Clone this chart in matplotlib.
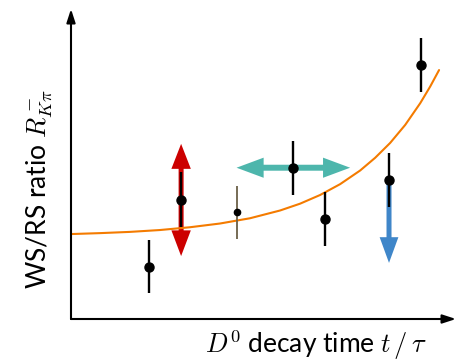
import matplotlib
matplotlib.use("Agg")
import matplotlib.pyplot as plt
from matplotlib.patches import FancyArrowPatch

plt.rcParams['font.family'] = ['Lato', 'DejaVu Sans']
plt.rcParams['mathtext.fontset'] = 'cm'

# measured points (decay time, ratio) in arbitrary units
t_pts = [2.03, 2.86, 4.31, 5.77, 6.60, 8.26, 9.09]
r_pts = [1.69, 3.85, 3.44, 4.88, 3.24, 4.47, 8.19]
r_err = [0.86, 0.88, 0.85, 0.87, 0.87, 0.87, 0.87]
pt_colors = ['black', 'black', '#6b6048', 'black', 'black', 'black', 'black']

# model curve
curve_t = [0.0, 0.75, 1.53, 2.31, 3.09, 3.87, 4.65, 5.43, 5.95, 6.47, 6.99, 7.51,
           7.90, 8.29, 8.68, 9.07, 9.33, 9.56]
curve_r = [2.74, 2.77, 2.81, 2.87, 2.96, 3.08, 3.25, 3.50, 3.72, 4.00, 4.35, 4.79,
           5.20, 5.68, 6.26, 6.96, 7.50, 8.03]

# arrows: (start, end)
red_up = ((2.86, 3.84), (2.86, 5.65))
red_down = ((2.86, 3.84), (2.86, 2.03))
teal_left = ((5.78, 4.88), (4.30, 4.88))
teal_right = ((5.78, 4.88), (7.25, 4.88))
blue_down = ((8.26, 4.47), (8.26, 1.81))

W, H = 456, 363
fig = plt.figure(figsize=(W / 100, H / 100), dpi=100)
ax = fig.add_axes([71 / W, (H - 319) / H, (456 - 71) / W, (319 - 9) / H])
ax.set_xlim(0, 10)
ax.set_ylim(0, 10)
for s in ax.spines.values():
    s.set_visible(False)
ax.set_xticks([])
ax.set_yticks([])
ax.patch.set_alpha(0)

def arr(p0, p1, color, hl, hw, tw):
    a = FancyArrowPatch(p0, p1, arrowstyle=f"simple,head_length={hl},head_width={hw},tail_width={tw}",
                        mutation_scale=1, color=color, lw=0, shrinkA=0, shrinkB=0, zorder=1)
    ax.add_patch(a)

arr(*red_up, '#cc0000', 18, 14, 3.6)
arr(*red_down, '#cc0000', 18.5, 14, 3.6)
arr(*teal_left, '#4db6ac', 19.5, 14.5, 4.3)
arr(*teal_right, '#4db6ac', 19.5, 14.5, 4.3)
arr(*blue_down, '#3f86c9', 18.5, 13.5, 3.6)

ax.plot(curve_t, curve_r, color='#f47b00', lw=1.5, zorder=2, solid_capstyle='round')

for t, r, e, c in zip(t_pts, r_pts, r_err, pt_colors):
    if c == 'black':
        ax.errorbar(t, r, yerr=e, fmt='o', color='black', ms=6.5, elinewidth=1.7,
                    capsize=0, zorder=3)
    else:
        ax.errorbar(t, r, yerr=e, fmt='none', ecolor=c, elinewidth=1.3, capsize=0, zorder=3)
        ax.plot(t, r, 'o', color='black', ms=4.5, zorder=4)

# axis arrows
for p0, p1 in [((0, 0), (0, 1)), ((0, 0), (1, 0))]:
    a = FancyArrowPatch(p0, p1, transform=ax.transAxes, arrowstyle="-|>,head_length=8,head_width=2.6",
                        mutation_scale=1, color='black', lw=1.5, shrinkA=0, shrinkB=0, clip_on=False,
                        zorder=5)
    ax.add_patch(a)

fig.text(40 / W, 1 - 189 / H, r"WS/RS ratio $R^-_{K\pi}$", rotation=90, ha='center', va='center',
         fontsize=19)
fig.text(316 / W, 1 - 345 / H, r"$D^0$ decay time $t\,/\,\tau$", ha='center', va='center',
         fontsize=19)

fig.savefig("out.png", dpi=100)
